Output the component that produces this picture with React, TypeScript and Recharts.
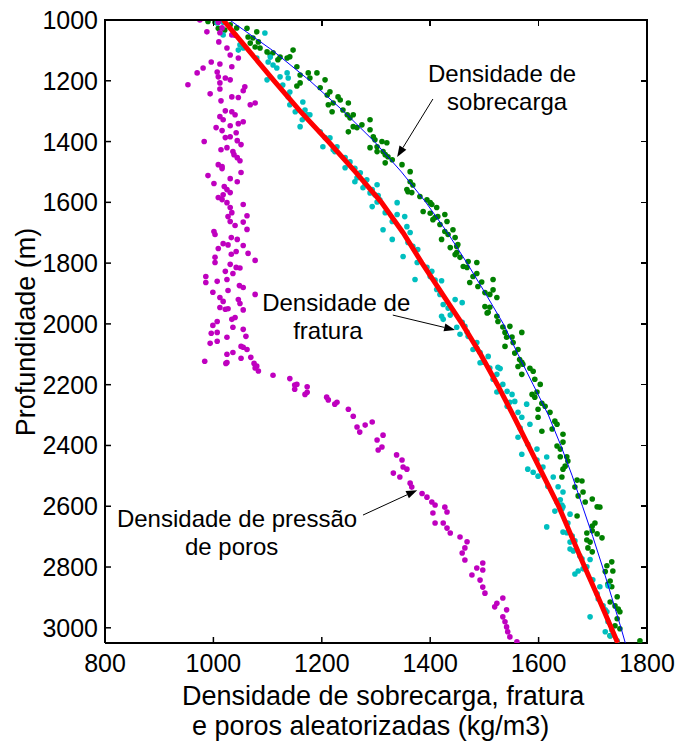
import { ScatterChart, Scatter, XAxis, YAxis, ReferenceLine, ReferenceDot } from "recharts";

const FONT = "'Liberation Sans', Arial, Helvetica, sans-serif";
const CHART_W = 680;
const CHART_H = 742;
const MARGIN = { top: 20, right: 33, bottom: 0, left: 0 };
const Y_AXIS_W = 105;
const X_AXIS_H = 99;

// [profundidade (m), densidade (kg/m3)]
const sobrecargaPts: [number, number][] = [
  [1005, 990], [1007, 1003], [1016, 1031], [1026, 1043], [1027, 1009], [1027, 1062], [1033, 1021], [1039, 1080],
  [1056, 1064], [1059, 1073], [1072, 1083], [1076, 1068], [1089, 1077], [1092, 1086], [1099, 1147], [1105, 1099],
  [1108, 1110], [1115, 1105], [1121, 1141], [1122, 1123], [1125, 1136], [1131, 1119], [1154, 1154], [1174, 1175],
  [1174, 1191], [1181, 1160], [1191, 1178], [1197, 1206], [1207, 1160], [1217, 1154], [1223, 1197], [1236, 1215],
  [1247, 1210], [1253, 1230], [1263, 1234], [1273, 1249], [1273, 1221], [1279, 1212], [1296, 1239], [1302, 1219],
  [1312, 1258], [1312, 1247], [1322, 1252], [1328, 1289], [1345, 1274], [1351, 1258], [1354, 1265], [1361, 1289],
  [1368, 1249], [1384, 1295], [1394, 1298], [1400, 1311], [1404, 1320], [1417, 1302], [1420, 1289], [1433, 1302],
  [1433, 1313], [1443, 1317], [1450, 1322], [1460, 1330], [1470, 1317], [1476, 1348], [1499, 1363], [1532, 1363],
  [1543, 1368], [1558, 1357], [1565, 1359], [1568, 1366], [1581, 1381], [1592, 1394], [1601, 1400], [1607, 1403],
  [1617, 1412], [1630, 1387], [1636, 1400], [1640, 1427], [1647, 1414], [1650, 1409], [1657, 1405], [1663, 1431],
  [1673, 1418], [1690, 1442], [1696, 1427], [1706, 1433], [1716, 1446], [1722, 1421], [1739, 1451], [1745, 1449],
  [1749, 1437], [1765, 1449], [1772, 1446], [1781, 1455], [1795, 1470], [1798, 1486], [1811, 1461], [1814, 1468],
  [1834, 1486], [1844, 1479], [1854, 1516], [1862, 1495], [1864, 1473], [1877, 1488], [1888, 1516], [1897, 1501],
  [1903, 1510], [1913, 1523], [1943, 1501], [1945, 1510], [1962, 1507], [1964, 1505], [1975, 1523], [1992, 1525],
  [2008, 1547], [2010, 1534], [2028, 1538], [2028, 1569], [2043, 1551], [2044, 1541], [2061, 1553], [2074, 1538],
  [2084, 1562], [2096, 1556], [2117, 1565], [2126, 1569], [2133, 1571], [2140, 1562], [2146, 1584], [2156, 1590],
  [2166, 1569], [2182, 1593], [2199, 1603], [2224, 1597], [2232, 1588], [2241, 1593], [2261, 1606], [2271, 1612],
  [2281, 1599], [2291, 1621], [2307, 1599], [2320, 1630], [2330, 1634], [2346, 1625], [2353, 1606], [2363, 1645],
  [2389, 1645], [2402, 1634], [2412, 1640], [2437, 1640], [2437, 1652], [2451, 1654], [2468, 1649], [2478, 1645],
  [2504, 1643], [2514, 1671], [2517, 1680], [2537, 1667], [2553, 1682], [2566, 1673], [2576, 1699], [2586, 1686],
  [2602, 1708], [2603, 1713], [2632, 1671], [2655, 1704], [2665, 1699], [2681, 1699], [2688, 1689], [2691, 1708],
  [2704, 1717], [2711, 1689], [2718, 1695], [2737, 1691], [2750, 1699], [2783, 1735], [2796, 1726], [2813, 1737],
  [2815, 1723], [2846, 1732], [2856, 1728], [2865, 1735], [2898, 1745], [2915, 1732], [2928, 1741], [2938, 1747],
  [2947, 1750], [2970, 1745], [2993, 1741], [3003, 1750], [3026, 1732], [3043, 1787],
];

const fraturaPts: [number, number][] = [
  [1007, 1018], [1010, 1007], [1043, 1095], [1049, 1018], [1082, 1049], [1085, 1055], [1092, 1055], [1099, 1046],
  [1122, 1105], [1125, 1080], [1138, 1101], [1148, 1110], [1158, 1117], [1174, 1136], [1187, 1123], [1191, 1138],
  [1197, 1099], [1214, 1128], [1237, 1141], [1253, 1138], [1270, 1165], [1279, 1141], [1296, 1169], [1302, 1151],
  [1312, 1173], [1312, 1178], [1328, 1164], [1351, 1160], [1368, 1197], [1387, 1206], [1388, 1215], [1417, 1202],
  [1417, 1228], [1427, 1221], [1433, 1224], [1453, 1243], [1467, 1252], [1486, 1243], [1488, 1261], [1503, 1271],
  [1519, 1265], [1526, 1283], [1532, 1261], [1542, 1280], [1542, 1302], [1552, 1276], [1558, 1293], [1569, 1289],
  [1575, 1298], [1578, 1304], [1592, 1307], [1599, 1302], [1601, 1339], [1614, 1293], [1634, 1317], [1640, 1339],
  [1647, 1353], [1663, 1330], [1680, 1357], [1690, 1313], [1699, 1363], [1722, 1330], [1732, 1359], [1745, 1368],
  [1755, 1377], [1778, 1350], [1798, 1376], [1814, 1394], [1827, 1403], [1844, 1400], [1854, 1372], [1856, 1409],
  [1858, 1421], [1887, 1412], [1903, 1418], [1920, 1446], [1930, 1459], [1936, 1424], [1948, 1433], [1959, 1442],
  [1971, 1437], [1975, 1421], [1985, 1424], [1995, 1459], [2008, 1464], [2011, 1449], [2027, 1468], [2034, 1455],
  [2041, 1470], [2061, 1486], [2080, 1486], [2084, 1479], [2094, 1492], [2107, 1507], [2126, 1497], [2128, 1492],
  [2143, 1525], [2145, 1510], [2147, 1529], [2166, 1523], [2182, 1516], [2199, 1534], [2222, 1542], [2224, 1523],
  [2232, 1551], [2255, 1556], [2258, 1547], [2264, 1578], [2271, 1542], [2291, 1562], [2307, 1569], [2330, 1584],
  [2343, 1566], [2373, 1562], [2396, 1580], [2412, 1597], [2429, 1569], [2438, 1615], [2448, 1597], [2471, 1608],
  [2478, 1580], [2488, 1590], [2501, 1599], [2504, 1627], [2534, 1617], [2536, 1636], [2553, 1645], [2579, 1640],
  [2586, 1634], [2596, 1643], [2602, 1645], [2609, 1643], [2616, 1630], [2626, 1658], [2655, 1654], [2668, 1615],
  [2685, 1645], [2687, 1652], [2698, 1662], [2714, 1667], [2718, 1658], [2741, 1658], [2747, 1664], [2764, 1676],
  [2773, 1680], [2775, 1695], [2799, 1689], [2806, 1682], [2813, 1673], [2823, 1667], [2842, 1700], [2862, 1728],
  [2865, 1713], [2888, 1708], [2905, 1710], [2928, 1719], [2941, 1723], [2947, 1726], [2964, 1695], [2980, 1728],
  [3007, 1735], [3013, 1723], [3026, 1732], [3043, 1745],
];

const porosPts: [number, number][] = [
  [1000, 975], [1007, 1009], [1026, 1016], [1039, 988], [1042, 1012], [1049, 1034], [1050, 1040], [1072, 1010],
  [1092, 1025], [1115, 1031], [1125, 1046], [1138, 996], [1145, 1012], [1154, 1034], [1158, 981], [1171, 1007],
  [1174, 970], [1187, 1009], [1191, 1022], [1197, 1031], [1207, 1012], [1213, 953], [1220, 1058], [1227, 1012],
  [1233, 1055], [1243, 994], [1253, 1034], [1255, 1046], [1266, 1014], [1273, 1077], [1279, 1068], [1299, 1022],
  [1302, 1034], [1312, 1040], [1318, 1012], [1328, 1018], [1335, 1055], [1341, 1046], [1348, 1031], [1354, 1005],
  [1364, 1016], [1371, 1042], [1384, 1031], [1387, 1022], [1397, 1044], [1400, 983], [1410, 1051], [1420, 1025],
  [1427, 1014], [1433, 1036], [1443, 1038], [1453, 1044], [1463, 1049], [1476, 1009], [1482, 1016], [1489, 1016],
  [1502, 1051], [1512, 990], [1522, 1031], [1532, 1044], [1538, 1001], [1548, 1020], [1558, 1025], [1568, 1031],
  [1575, 1018], [1584, 1009], [1591, 1016], [1601, 1025], [1607, 1055], [1617, 1031], [1634, 1034], [1644, 1062],
  [1647, 1027], [1663, 1031], [1665, 1055], [1676, 1040], [1689, 1062], [1696, 1001], [1706, 1003], [1716, 1033],
  [1722, 1044], [1736, 1018], [1740, 1027], [1742, 1055], [1752, 1009], [1762, 1042], [1768, 1064], [1771, 1033],
  [1781, 1003], [1791, 1077], [1798, 1003], [1804, 1031], [1814, 1042], [1816, 1049], [1827, 1022], [1834, 1036],
  [1844, 986], [1854, 1025], [1860, 1007], [1864, 986], [1874, 1048], [1880, 1055], [1890, 1027], [1896, 999],
  [1903, 1077], [1913, 1012], [1920, 1046], [1926, 1018], [1933, 1049], [1946, 1012], [1950, 1027], [1952, 1022],
  [1954, 1055], [1979, 1040], [1985, 1034], [1992, 1007], [2005, 999], [2011, 1036], [2018, 1055], [2028, 1007],
  [2031, 996], [2041, 1060], [2044, 1025], [2057, 1007], [2064, 994], [2074, 1051], [2077, 1055], [2084, 1062],
  [2094, 1036], [2100, 1025], [2110, 1069], [2113, 1051], [2123, 984], [2127, 1025], [2130, 1023], [2130, 1075],
  [2139, 1080], [2145, 1077], [2155, 1083], [2169, 1110], [2180, 1141], [2199, 1154], [2201, 1150], [2207, 1173],
  [2215, 1150], [2225, 1173], [2232, 1169], [2241, 1209], [2250, 1212], [2258, 1228], [2264, 1224], [2281, 1249],
  [2304, 1258], [2323, 1293], [2333, 1280], [2339, 1265], [2356, 1270], [2366, 1313], [2382, 1302], [2405, 1311],
  [2415, 1304], [2431, 1338], [2448, 1348], [2471, 1350], [2478, 1357], [2491, 1332], [2504, 1344], [2524, 1363],
  [2537, 1366], [2558, 1385], [2570, 1394], [2586, 1403], [2596, 1409], [2603, 1427], [2619, 1431], [2622, 1405],
  [2655, 1409], [2655, 1424], [2672, 1431], [2688, 1437], [2701, 1455], [2717, 1468], [2737, 1464], [2754, 1459],
  [2777, 1464], [2787, 1497], [2803, 1486], [2810, 1497], [2826, 1477], [2843, 1492], [2866, 1497], [2886, 1501],
  [2902, 1534], [2919, 1523], [2931, 1519], [2941, 1541], [2964, 1534], [2980, 1538], [2997, 1541], [3013, 1543],
  [3030, 1547], [3046, 1560],
];

// curva de fratura (vermelha) e curva de sobrecarga (azul)
const fraturaCurva: [number, number][] = [
  [1000, 1018], [1100, 1065], [1200, 1112], [1300, 1160], [1400, 1212], [1500, 1262], [1600, 1310], [1700, 1350],
  [1800, 1385], [1900, 1422], [2000, 1459], [2100, 1493], [2200, 1524], [2300, 1553], [2400, 1581], [2500, 1609],
  [2600, 1637], [2700, 1661], [2800, 1685], [2900, 1710], [3000, 1734], [3050, 1746],
];

const sobrecargaCurva: [number, number][] = [
  [1000, 1030], [1100, 1109], [1200, 1178], [1300, 1240], [1400, 1297], [1500, 1347], [1600, 1392], [1700, 1432],
  [1800, 1468], [1900, 1502], [2000, 1535], [2100, 1562], [2200, 1590], [2300, 1618], [2400, 1641], [2500, 1662],
  [2600, 1681], [2700, 1700], [2800, 1718], [2900, 1735], [3000, 1752], [3050, 1760],
];

const xDomain = [800, 1800];
const yDomain = [1000, 3050];
const xTicks = [800, 1000, 1200, 1400, 1600, 1800];
const yTicks = [1000, 1200, 1400, 1600, 1800, 2000, 2200, 2400, 2600, 2800, 3000];

const toXY = (pts: [number, number][]) => pts.map(([d, v]) => ({ x: v, y: d }));

const dot = (color: string) => (p: any) => <circle cx={p.cx} cy={p.cy} r={2.8} fill={color} />;
const noDot = () => <g />;

function BottomTick(props: any) {
  const { x, y, payload } = props;
  return (
    <g>
      <rect x={x - 0.75} y={y - 6} width={1.5} height={6} fill="#000" />
      <text x={x} y={y + 29} textAnchor="middle" fontSize={25} fontFamily={FONT} fill="#000">
        {payload.value}
      </text>
    </g>
  );
}

function LeftTick(props: any) {
  const { x, y, payload } = props;
  return (
    <g>
      <rect x={x} y={y - 0.75} width={6} height={1.5} fill="#000" />
      <text x={x - 7} y={y + 9} textAnchor="end" fontSize={25} fontFamily={FONT} fill="#000">
        {payload.value}
      </text>
    </g>
  );
}

function Arrow(props: any) {
  const { x1, y1, x2, y2 } = props;
  const a = Math.atan2(y2 - y1, x2 - x1);
  const L = 11;
  const W = 4;
  const bx = x2 - L * Math.cos(a);
  const by = y2 - L * Math.sin(a);
  const px = -Math.sin(a) * W;
  const py = Math.cos(a) * W;
  return (
    <g>
      <line x1={x1} y1={y1} x2={bx} y2={by} stroke="#000" strokeWidth={1} />
      <polygon points={`${x2},${y2} ${bx + px},${by + py} ${bx - px},${by - py}`} fill="#000" />
    </g>
  );
}

const note = (l1: string, l2: string, dx2: number) => (p: any) => (
  <text fontSize={24} fontFamily={FONT} fill="#000">
    <tspan x={p.cx} y={p.cy}>{l1}</tspan>
    <tspan x={p.cx + dx2} y={p.cy + 28}>{l2}</tspan>
  </text>
);

function XTitle(props: any) {
  const vb = props.viewBox;
  return (
    <text fontSize={27} fontFamily={FONT} fill="#000">
      <tspan x={vb.x + 77} y={vb.y + 62}>Densidade de sobrecarga, fratura</tspan>
      <tspan x={vb.x + 87} y={vb.y + 92}>e poros aleatorizadas (kg/m3)</tspan>
    </text>
  );
}

function YTitle(props: any) {
  const vb = props.viewBox;
  const cx = 35;
  const cy = vb.y + 312;
  return (
    <text x={cx} y={cy} transform={`rotate(-90 ${cx} ${cy})`} textAnchor="middle" fontSize={27} fontFamily={FONT} fill="#000">
      Profundidade (m)
    </text>
  );
}

// top and right sides of the MATLAB-style box, laid over the chart
function BoxSides() {
  const left = MARGIN.left + Y_AXIS_W;
  const right = CHART_W - MARGIN.right;
  const top = MARGIN.top;
  const bottom = CHART_H - MARGIN.bottom - X_AXIS_H;
  const w = right - left;
  const h = bottom - top;
  const blk = { position: "absolute" as const, background: "#000" };
  return (
    <>
      <div style={{ ...blk, left: left - 1, top: top - 1, width: w + 2, height: 2 }} />
      <div style={{ ...blk, left: right - 1, top: top - 1, width: 2, height: h + 2 }} />
      {xTicks.map((t) => (
        <div
          key={"x" + t}
          style={{ ...blk, left: left + ((t - xDomain[0]) / (xDomain[1] - xDomain[0])) * w - 0.75, top: top, width: 1.5, height: 6 }}
        />
      ))}
      {yTicks.map((t) => (
        <div
          key={"y" + t}
          style={{ ...blk, left: right - 6, top: top + ((t - yDomain[0]) / (yDomain[1] - yDomain[0])) * h - 0.75, width: 6, height: 1.5 }}
        />
      ))}
    </>
  );
}

export default function App() {
  return (
    <div style={{ position: "absolute", left: 0, top: 0, width: CHART_W, height: CHART_H, background: "#fff" }}>
      <ScatterChart width={CHART_W} height={CHART_H} margin={MARGIN}>
        <XAxis
          type="number"
          dataKey="x"
          domain={xDomain}
          ticks={xTicks}
          interval={0}
          allowDataOverflow
          height={X_AXIS_H}
          tickSize={0}
          tickMargin={0}
          tickLine={false}
          axisLine={{ stroke: "#000", strokeWidth: 2 }}
          tick={<BottomTick />}
          label={{ content: <XTitle /> }}
        />
        <YAxis
          type="number"
          dataKey="y"
          domain={yDomain}
          reversed
          ticks={yTicks}
          interval={0}
          allowDataOverflow
          width={Y_AXIS_W}
          tickSize={0}
          tickMargin={0}
          tickLine={false}
          axisLine={{ stroke: "#000", strokeWidth: 2 }}
          tick={<LeftTick />}
          label={{ content: <YTitle /> }}
        />
        <Scatter data={toXY(sobrecargaPts)} fill="#008000" shape={dot("#008000")} isAnimationActive={false} />
        <Scatter data={toXY(fraturaPts)} fill="#00bfbf" shape={dot("#00bfbf")} isAnimationActive={false} />
        <Scatter data={toXY(porosPts)} fill="#bf00bf" shape={dot("#bf00bf")} isAnimationActive={false} />
        <Scatter
          data={toXY(sobrecargaCurva)}
          line={{ stroke: "#0000ff", strokeWidth: 1 }}
          shape={noDot}
          isAnimationActive={false}
        />
        <Scatter
          data={toXY(fraturaCurva)}
          line={{ stroke: "#ff0000", strokeWidth: 5 }}
          shape={noDot}
          isAnimationActive={false}
        />
        <ReferenceLine segment={[{ x: 1405, y: 1260 }, { x: 1339, y: 1451 }]} shape={Arrow} />
        <ReferenceLine segment={[{ x: 1331, y: 1971 }, { x: 1446, y: 2020 }]} shape={Arrow} />
        <ReferenceLine segment={[{ x: 1276, y: 2629 }, { x: 1376, y: 2547 }]} shape={Arrow} />
        <ReferenceDot x={1396} y={1204} r={0} shape={note("Densidade de", "sobrecarga", 19)} />
        <ReferenceDot x={1090} y={1958} r={0} shape={note("Densidade de", "fratura", 31)} />
        <ReferenceDot x={822} y={2668} r={0} shape={note("Densidade de pressão", "de poros", 68)} />
      </ScatterChart>
      <BoxSides />
    </div>
  );
}
